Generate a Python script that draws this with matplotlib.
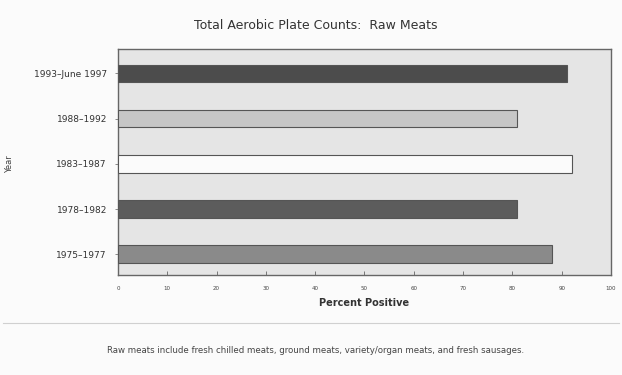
import matplotlib
matplotlib.use("Agg")
import matplotlib.pyplot as plt
from matplotlib.lines import Line2D

# Percent of samples positive, by collection period
periods = ["1975\u20131977", "1978\u20131982", "1983\u20131987", "1988\u20131992", "1993\u2013June 1997"]
percent_positive = [88, 81, 92, 81, 91]
bar_colors = ["#8a8a8a", "#5c5c5c", "#fbfbfb", "#c6c6c6", "#4c4c4c"]
x_ticks = [0, 10, 20, 30, 40, 50, 60, 70, 80, 90, 100]

title = "Total Aerobic Plate Counts:  Raw Meats"
footnote = ("Raw meats include fresh chilled meats, ground meats, variety/organ meats, "
            "and fresh sausages.")

plt.rcParams["font.family"] = ["DejaVu Sans"]

fig = plt.figure(figsize=(6.22, 3.75), dpi=100)
fig.patch.set_facecolor("#fbfbfb")

ax = fig.add_axes([0.1897, 0.2667, 0.7926, 0.6026])
ax.set_facecolor("#e5e5e5")

y = list(range(len(periods)))
ax.barh(y, percent_positive, height=0.39, color=bar_colors,
        edgecolor="#555555", linewidth=0.8, zorder=3)

ax.set_xlim(0, 100)
ax.set_ylim(-0.46, 4.54)
ax.set_xticks(x_ticks)
ax.set_xticklabels([str(v) for v in x_ticks], fontsize=4, color="#444444")
ax.set_yticks(y)
ax.set_yticklabels(periods, fontsize=6.5, color="#333333")
ax.tick_params(axis="x", direction="in", length=3, width=0.6, colors="#666666",
               labelcolor="#444444", pad=8)
ax.tick_params(axis="y", length=2, width=0.6, colors="#777777",
               labelcolor="#333333", pad=6)

for side in ["top", "right", "bottom", "left"]:
    ax.spines[side].set_color("#666666")
    ax.spines[side].set_linewidth(1.0)

ax.set_xlabel("Percent Positive", fontsize=7, fontweight="bold", color="#333333",
              labelpad=5)
ax.set_ylabel("Year", fontsize=6, color="#444444")
ax.yaxis.set_label_coords(-0.211, 0.49)

fig.text(0.507, 0.933, title, ha="center", va="center", fontsize=9, color="#333333")

# separator above the footnote
fig.add_artist(Line2D([0.005, 0.995], [0.14, 0.14], transform=fig.transFigure,
                      color="#d0d0d0", linewidth=0.8))
fig.text(0.507, 0.066, footnote, ha="center", va="center", fontsize=6.2, color="#444444")

fig.savefig("out.png", dpi=100, facecolor=fig.get_facecolor())
